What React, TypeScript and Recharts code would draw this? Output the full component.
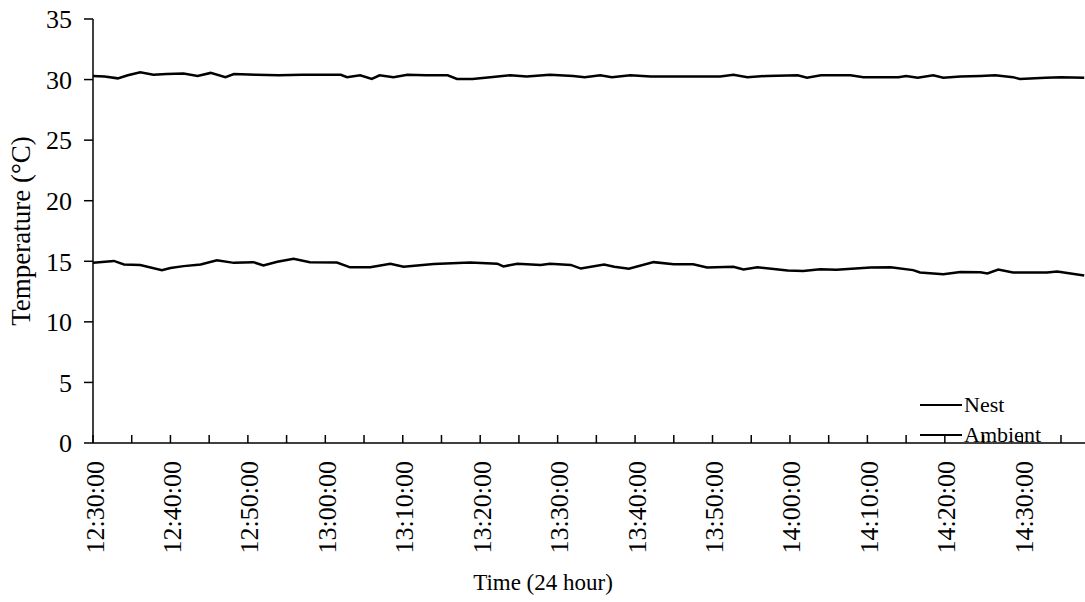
import { LineChart, Line, XAxis, YAxis, Legend, Label } from 'recharts';

// minutes after 12:30:00
const nestMinutes = [0, 1.5, 3.2, 4.5, 6.1, 7.8, 9.5, 11.7, 13.5, 15.2, 17.1, 18.2, 21, 24, 27, 30, 32, 32.8, 34.5, 36, 37, 38.8, 40.6, 43, 45.8, 47, 49, 51.3, 53.9, 56, 59, 62, 63.5, 65.5, 67, 69.4, 72, 76, 81, 82.7, 84.5, 87, 91, 92.2, 94, 97.8, 99.5, 104, 105, 106.5, 108.5, 109.8, 112, 114.6, 116.5, 118.8, 119.7, 123, 125, 128];
const nestTemps = [30.3, 30.25, 30.1, 30.35, 30.6, 30.4, 30.45, 30.5, 30.3, 30.55, 30.2, 30.45, 30.4, 30.35, 30.4, 30.4, 30.4, 30.2, 30.35, 30.05, 30.35, 30.2, 30.4, 30.35, 30.35, 30.05, 30.05, 30.2, 30.35, 30.25, 30.4, 30.3, 30.2, 30.35, 30.2, 30.35, 30.25, 30.25, 30.25, 30.4, 30.2, 30.3, 30.35, 30.15, 30.35, 30.35, 30.2, 30.2, 30.3, 30.15, 30.35, 30.15, 30.25, 30.3, 30.35, 30.2, 30.05, 30.15, 30.2, 30.15];

const ambientMinutes = [0, 2.7, 4, 6.1, 8.9, 10, 11.7, 13.9, 16, 18.2, 20.7, 22, 23.8, 25.9, 28, 31.5, 33.2, 35.8, 38.4, 40.1, 44, 48.7, 52.2, 53, 54.8, 57.8, 59, 61.7, 63, 66, 67.3, 69.2, 72.4, 75, 77.5, 79.3, 82.7, 84, 85.8, 89.7, 91.7, 93.9, 96, 100.4, 103, 105.9, 106.8, 109.8, 112, 114.6, 115.5, 116.9, 118.8, 123.2, 124.5, 128];
const ambientTemps = [14.87, 15.03, 14.74, 14.7, 14.27, 14.45, 14.6, 14.74, 15.09, 14.87, 14.93, 14.65, 14.96, 15.2, 14.93, 14.9, 14.5, 14.5, 14.8, 14.55, 14.78, 14.9, 14.8, 14.58, 14.8, 14.7, 14.8, 14.7, 14.4, 14.73, 14.55, 14.39, 14.93, 14.76, 14.76, 14.48, 14.54, 14.32, 14.51, 14.24, 14.2, 14.35, 14.3, 14.48, 14.51, 14.27, 14.07, 13.93, 14.12, 14.1, 14.0, 14.32, 14.07, 14.07, 14.15, 13.82];

const xTicks = [0, 5, 10, 15, 20, 25, 30, 35, 40, 45, 50, 55, 60, 65, 70, 75, 80, 85, 90, 95, 100, 105, 110, 115, 120, 125];
const yTicks = [0, 5, 10, 15, 20, 25, 30, 35];
const seriesNames = ['Nest', 'Ambient'];

const nestData = nestMinutes.map((t, i) => ({ t, v: nestTemps[i] }));
const ambientData = ambientMinutes.map((t, i) => ({ t, v: ambientTemps[i] }));

const FONT = '"Liberation Serif", "Times New Roman", serif';

function clock(min: number) {
    const total = 12 * 60 + 30 + min;
    const h = Math.floor(total / 60);
    const m = total % 60;
    return `${h}:${String(m).padStart(2, '0')}:00`;
}

function TimeTick({ x, y, payload }: any) {
    const v = payload.value;
    return (
        <g>
            <line x1={x} x2={x} y1={y} y2={y - 8} stroke="#000" strokeWidth={1.5} />
            {v % 10 === 0 && (
                <text
                    transform={`translate(${x + 2},${y + 18}) rotate(-90)`}
                    textAnchor="end"
                    dominantBaseline="central"
                    fontFamily={FONT}
                    fontSize={26}
                    fill="#000"
                >
                    {clock(v)}
                </text>
            )}
        </g>
    );
}

function KeyBox() {
    return (
        <div style={{ fontFamily: FONT, fontSize: 22, color: '#000' }}>
            {seriesNames.map((n) => (
                <div key={n} style={{ display: 'flex', alignItems: 'center', height: 30 }}>
                    <span style={{ display: 'inline-block', width: 42, height: 2.5, background: '#000', marginRight: 2 }} />
                    {n}
                </div>
            ))}
        </div>
    );
}

export default function App() {
    return (
        <div style={{ position: 'absolute', left: 0, top: 0, background: '#fff' }}>
            <LineChart width={1085} height={602} margin={{ top: 19, right: 0, left: 0, bottom: 0 }}>
                <XAxis
                    type="number"
                    dataKey="t"
                    domain={[0, 128.1]}
                    ticks={xTicks}
                    interval={0}
                    height={159}
                    tickSize={0}
                    tickMargin={0}
                    tickLine={false}
                    tick={<TimeTick />}
                    axisLine={{ stroke: '#000', strokeWidth: 1.5 }}
                    allowDataOverflow
                >
                    <Label
                        value="Time (24 hour)"
                        position="insideBottom"
                        offset={12}
                        dx={-46}
                        style={{ fontFamily: FONT, fontSize: 23, fill: '#000' }}
                    />
                </XAxis>
                <YAxis
                    type="number"
                    domain={[0, 35]}
                    ticks={yTicks}
                    interval={0}
                    width={93}
                    tickSize={9}
                    tickMargin={12}
                    tickLine={{ stroke: '#000', strokeWidth: 1.5 }}
                    axisLine={{ stroke: '#000', strokeWidth: 1.5 }}
                    tick={{ fontFamily: FONT, fontSize: 26, fill: '#000' }}
                >
                    <Label
                        value="Temperature (°C)"
                        angle={-90}
                        position="insideLeft"
                        offset={20}
                        style={{ fontFamily: FONT, fontSize: 27, fill: '#000', textAnchor: 'middle' }}
                    />
                </YAxis>
                <Legend
                    layout="vertical"
                    align="center"
                    verticalAlign="middle"
                    content={<KeyBox />}
                    wrapperStyle={{ left: 920, top: 390, width: 160 }}
                />
                <Line
                    data={nestData}
                    dataKey="v"
                    name="Nest"
                    type="linear"
                    stroke="#000"
                    strokeWidth={2.5}
                    dot={false}
                    isAnimationActive={false}
                />
                <Line
                    data={ambientData}
                    dataKey="v"
                    name="Ambient"
                    type="linear"
                    stroke="#000"
                    strokeWidth={2.5}
                    dot={false}
                    isAnimationActive={false}
                />
            </LineChart>
        </div>
    );
}
